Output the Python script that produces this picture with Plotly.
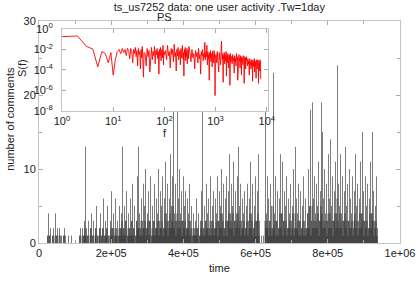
import plotly.graph_objects as go

# activity series: number of comments per time bin (bin width DT)
DT = 1385
COUNTS = [
    0, 0, 0, 0, 0, 0, 0, 0, 0, 0, 0, 0, 0, 0, 0, 0, 0, 1, 1, 4,
    0, 1, 1, 2, 0, 0, 0, 1, 1, 2, 0, 0, 1, 4, 0, 1, 1, 2, 0, 0,
    1, 2, 0, 1, 0, 1, 0, 0, 0, 1, 1, 2, 0, 1, 0, 0, 0, 0, 0, 1,
    0, 0, 0, 0, 0, 1, 0, 0, 0, 0, 0, 0, 0, 0, 0, 0, 0, 0, 0, 0,
    0, 1, 1, 2, 0, 0, 1, 2, 0, 1, 1, 3, 2, 13, 1, 2, 0, 1, 1, 3,
    0, 0, 1, 2, 2, 4, 0, 1, 1, 3, 0, 0, 1, 2, 2, 5, 0, 1, 1, 0,
    1, 2, 2, 4, 0, 1, 1, 2, 2, 6, 0, 1, 1, 3, 1, 2, 2, 5, 0, 1,
    1, 0, 1, 3, 2, 7, 1, 2, 2, 4, 0, 1, 2, 6, 1, 2, 1, 3, 0, 1,
    2, 5, 1, 2, 2, 4, 3, 13, 1, 2, 2, 5, 1, 3, 3, 7, 0, 1, 2, 4,
    1, 2, 2, 6, 1, 3, 3, 8, 1, 2, 2, 5, 0, 1, 1, 3, 3, 9, 2, 13,
    2, 4, 1, 2, 3, 6, 1, 3, 2, 8, 2, 5, 3, 10, 1, 2, 2, 4, 3, 7,
    1, 3, 3, 9, 0, 1, 2, 5, 1, 3, 3, 8, 1, 2, 2, 6, 2, 4, 3, 10,
    1, 3, 2, 7, 2, 5, 3, 9, 1, 2, 2, 6, 4, 11, 2, 4, 3, 8, 1, 3,
    2, 6, 4, 12, 2, 5, 3, 9, 5, 19, 2, 4, 3, 8, 1, 3, 4, 22, 2, 6,
    3, 10, 2, 4, 3, 7, 1, 3, 3, 9, 2, 5, 3, 7, 1, 2, 2, 6, 2, 4,
    3, 8, 1, 3, 2, 5, 0, 1, 2, 4, 1, 2, 1, 3, 2, 6, 1, 2, 2, 4,
    0, 1, 1, 3, 2, 7, 3, 20, 1, 2, 2, 5, 1, 3, 3, 8, 2, 4, 2, 6,
    1, 2, 3, 9, 1, 3, 2, 5, 3, 7, 1, 2, 2, 6, 2, 4, 3, 9, 1, 3,
    3, 7, 2, 5, 4, 10, 2, 4, 3, 8, 1, 2, 2, 6, 3, 9, 1, 3, 3, 7,
    4, 12, 2, 4, 3, 8, 2, 5, 4, 11, 1, 3, 3, 7, 2, 4, 3, 9, 4, 13,
    2, 5, 3, 8, 1, 3, 2, 6, 2, 4, 3, 7, 1, 2, 2, 5, 3, 8, 1, 3,
    2, 6, 4, 11, 2, 4, 3, 8, 1, 2, 2, 5, 3, 9, 1, 3, 3, 7, 4, 12,
    1, 3, 0, 0, 0, 1, 0, 0, 0, 1, 0, 0, 3, 19, 2, 4, 3, 9, 2, 6,
    1, 3, 3, 8, 2, 5, 1, 2, 5, 23, 2, 4, 3, 9, 1, 3, 3, 7, 1, 2,
    2, 6, 4, 12, 2, 4, 4, 11, 1, 3, 3, 7, 2, 5, 3, 9, 1, 2, 2, 6,
    2, 4, 3, 8, 1, 3, 2, 5, 4, 10, 1, 2, 4, 13, 2, 6, 2, 4, 3, 8,
    1, 3, 3, 7, 1, 2, 2, 5, 3, 9, 1, 3, 2, 6, 1, 2, 2, 4, 4, 10,
    2, 5, 5, 18, 1, 3, 5, 19, 2, 6, 3, 9, 2, 4, 3, 8, 2, 5, 4, 11,
    1, 3, 3, 7, 5, 19, 4, 15, 2, 6, 3, 10, 2, 4, 3, 8, 1, 3, 4, 12,
    2, 6, 4, 14, 2, 5, 3, 9, 1, 3, 3, 7, 4, 11, 2, 4, 6, 24, 3, 8,
    2, 5, 4, 12, 2, 4, 3, 9, 1, 3, 3, 7, 4, 13, 2, 5, 3, 8, 1, 3,
    3, 10, 2, 6, 2, 4, 3, 9, 1, 2, 3, 7, 4, 12, 2, 5, 3, 8, 1, 3,
    2, 6, 4, 11, 2, 4, 4, 15, 3, 7, 1, 3, 3, 9, 2, 5, 3, 8, 1, 2,
    2, 6, 4, 11, 2, 4, 4, 15, 3, 7, 1, 3, 2, 5, 3, 9, 1, 2,
]

# power spectrum (inset), frequencies and log10 S(f)
FREQ = (list(range(1, 41)) + list(range(42, 101, 2)) + list(range(105, 301, 5))
        + list(range(315, 1000, 15)) + list(range(1025, 2001, 25))
        + list(range(2050, 4001, 50)) + list(range(4090, 7601, 90)))
LOG_PS = [
    -0.75, -0.68, -1.7, -1.95, -3.7, -2.2, -2.4, -3.3, -2.3, -4.5,
    -3.0, -2.2, -2.0, -2.4, -1.9, -2.3, -2.0, -2.6, -1.9, -2.1,
    -2.9, -1.9, -2.2, -3.3, -2.0, -2.4, -1.8, -2.7, -2.1, -3.6,
    -1.9, -2.5, -2.2, -3.9, -2.0, -2.8, -1.7, -3.1, -4.7, -2.3,
    # 42..100
    -2.4, -3.6, -1.9, -2.7, -2.1, -4.2, -2.3, -1.8, -3.0, -2.2,
    -2.6, -1.7, -3.4, -2.1, -2.5, -1.9, -2.9, -2.2, -4.4, -2.0,
    -2.6, -1.8, -3.1, -2.3, -2.0, -2.8, -1.6, -3.5, -2.2, -2.5,
    # 105..300
    -2.1, -3.0, -1.6, -2.6, -2.2, -3.8, -1.9, -2.5, -2.0, -3.2,
    -1.5, -2.7, -2.3, -4.1, -2.0, -2.6, -1.8, -3.0, -2.4, -2.1,
    -3.5, -1.9, -2.8, -2.2, -1.6, -2.9, -2.3, -4.6, -2.0, -2.5,
    -1.8, -3.1, -2.2, -2.7, -1.9, -3.4, -2.4, -2.1, -2.9, -1.7,
    # 315..990
    -2.3, -3.2, -2.0, -2.8, -2.4, -3.9, -2.1, -2.7, -2.3, -3.3,
    -1.9, -2.9, -2.5, -4.4, -2.2, -2.6, -2.0, -3.1, -2.4, -2.8,
    -1.3, -3.0, -2.3, -2.7, -1.6, -3.5, -2.2, -2.9, -2.5, -5.0,
    -2.3, -2.8, -2.1, -3.2, -2.6, -2.4, -3.7, -2.2, -2.9, -2.5,
    -3.3, -2.1, -2.8, -2.4, -6.5, -2.6,
    # 1025..2000
    -2.5, -3.3, -2.2, -2.9, -2.6, -4.2, -2.3, -2.8, -2.5, -3.5,
    -2.1, -1.2, -2.7, -3.0, -2.4, -5.2, -2.6, -2.9, -2.3, -3.4,
    -2.7, -2.5, -3.1, -2.2, -4.6, -2.8, -2.6, -3.3, -2.4, -2.9,
    -2.7, -3.8, -2.5, -3.0, -2.6, -5.5, -2.8, -2.4, -3.2, -2.7,
    # 2050..4000
    -2.7, -3.4, -2.5, -3.1, -2.8, -4.3, -2.6, -3.2, -2.9, -3.6,
    -2.4, -3.0, -2.7, -5.0, -2.8, -3.3, -2.5, -3.1, -2.9, -3.8,
    -2.6, -3.2, -2.8, -4.5, -2.7, -3.0, -2.9, -3.5, -2.6, -3.3,
    -2.8, -5.3, -3.0, -2.7, -3.4, -2.9, -3.9, -2.8, -3.1, -2.7,
    # 4090..7600
    -3.0, -3.6, -2.9, -3.4, -3.1, -4.5, -2.9, -3.5, -3.2, -3.9,
    -3.0, -3.6, -3.3, -5.1, -3.0, -3.7, -3.2, -3.5, -2.9, -4.2,
    -3.1, -3.6, -3.3, -4.8, -3.0, -3.5, -3.2, -3.9, -3.0, -3.7,
    -3.4, -5.3, -3.1, -3.6, -3.3, -4.1, -3.0, -3.8, -3.2, -4.9,
]

X_TICKS = [0, 200000, 400000, 600000, 800000, 1000000]
X_TICKTEXT = ["0", "2e+05", "4e+05", "6e+05", "8e+05", "1e+06"]
Y_TICKS = [0, 10, 20, 30]
F_TICKS = [1, 10, 100, 1000, 10000]
S_TICKS = [1e-8, 1e-6, 1e-4, 1e-2, 1]

X_MAX, Y_MAX = 1000000, 30
F_RANGE = [0, 4.02]   # log10 limits of the inset axes
S_RANGE = [-8, 0]
INSET_X = [0.0637, 0.634]   # inset domain in the main plot area
INSET_Y = [0.5946, 0.964]

FONT = "Liberation Sans, Arial, sans-serif"
FRAME = "#c4c4c4"

# impulses: one vertical line from 0 up to each count.
# The inset is opaque in the original, so impulses that run behind it
# stop at its lower edge.
t_lo, t_hi = INSET_X[0] * X_MAX, INSET_X[1] * X_MAX
y_cut = INSET_Y[0] * Y_MAX
ix, iy = [], []
for i, n in enumerate(COUNTS):
    if n <= 0:
        continue
    t = i * DT
    top = min(n, y_cut) if t_lo <= t <= t_hi else n
    ix += [t, t, None]
    iy += [0, top, None]

fig = go.Figure()
fig.add_trace(go.Scatter(
    x=ix, y=iy, mode="lines",
    line=dict(color="rgba(0,0,0,0.65)", width=0.8),
    hoverinfo="skip", showlegend=False,
))
fig.add_trace(go.Scatter(
    x=FREQ, y=[10 ** v for v in LOG_PS], mode="lines",
    line=dict(color="rgba(255,0,0,0.9)", width=1.0),
    xaxis="x2", yaxis="y2", showlegend=False,
))

axis_common = dict(
    showgrid=False, zeroline=False, showline=True, linecolor=FRAME,
    linewidth=1, mirror="ticks", ticks="inside", tickcolor="#aaaaaa",
    ticklen=4, automargin=False,
    tickfont=dict(family=FONT, size=11, color="#222222"),
)

fig.update_layout(
    width=417, height=281,
    margin=dict(l=39, r=17, t=21, b=38),
    paper_bgcolor="white", plot_bgcolor="white",
    font=dict(family=FONT, size=11, color="#222222"),
    title=dict(text="ts_us7252 data: one user activity .Tw=1day",
               x=0.526, xanchor="center", y=0.975, yanchor="middle",
               font=dict(size=11)),
    xaxis=dict(axis_common, range=[0, X_MAX], tickvals=X_TICKS,
               ticktext=X_TICKTEXT,
               minor=dict(dtick=100000, ticks="inside", ticklen=3,
                          tickcolor="#aaaaaa")),
    yaxis=dict(axis_common, range=[0, Y_MAX], tickvals=Y_TICKS,
               minor=dict(dtick=5, ticks="inside", ticklen=3,
                          tickcolor="#aaaaaa")),
    xaxis2=dict(axis_common, type="log", range=F_RANGE, anchor="y2",
                domain=INSET_X, tickvals=F_TICKS,
                ticktext=["10<sup>%d</sup>" % k for k in range(5)]),
    yaxis2=dict(axis_common, type="log", range=S_RANGE, anchor="x2",
                domain=INSET_Y, tickvals=S_TICKS,
                ticklabelstandoff=6,
                ticktext=["10<sup>%d</sup>" % k for k in (-8, -6, -4, -2, 0)]),
    annotations=[
        dict(text="number of comments", xref="paper", yref="paper",
             x=-0.08, y=0.56, textangle=-90, showarrow=False,
             xanchor="center", yanchor="middle"),
        dict(text="time", xref="paper", yref="paper", x=0.5, y=-0.113,
             showarrow=False, xanchor="center", yanchor="middle"),
        dict(text="PS", xref="paper", yref="paper", x=0.349, y=1.018,
             showarrow=False, xanchor="center", yanchor="middle"),
        dict(text="S(f)", xref="paper", yref="paper", x=-0.047, y=0.788,
             textangle=-90, showarrow=False, xanchor="center",
             yanchor="middle"),
        dict(text="f", xref="paper", yref="paper", x=0.349, y=0.495,
             showarrow=False, xanchor="center", yanchor="middle"),
    ],
)

# the page body has a default 8px margin; drop it so the figure sits at 0,0
fig.write_html("out.html", config={"displayModeBar": False},
               post_script="document.body.style.margin='0px';")
